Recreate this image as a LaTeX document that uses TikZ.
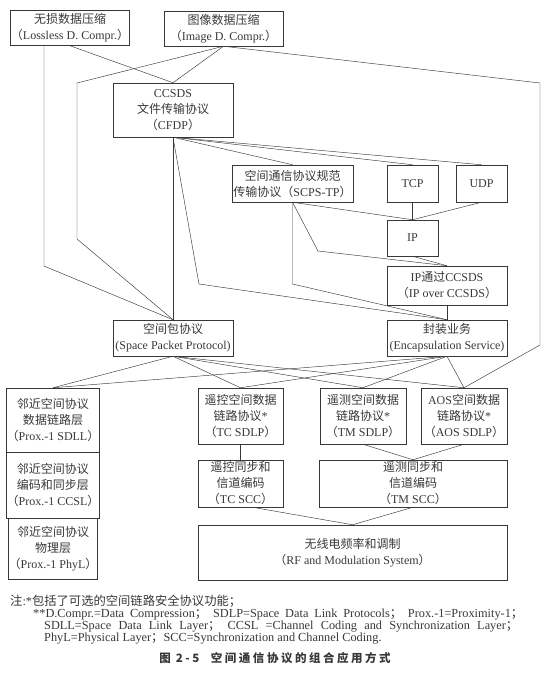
\documentclass[tikz,border=0pt]{standalone}
\usepackage{fontspec}
\setmainfont{Liberation Serif}
\newfontfamily\cjk{Noto Sans CJK SC}
\newfontfamily\capcjk[LetterSpace=22]{Noto Sans CJK SC}
\usetikzlibrary{calc}
\newcommand{\zh}[1]{{\cjk #1}}
\colorlet{ink}{black!78}

\begin{document}
\begin{tikzpicture}[x=1pt,y=-1pt,
    box/.style={draw=ink,line width=0.5pt,align=center,inner sep=0pt,
                text=ink,font=\fontsize{12}{16}\selectfont},
    wire/.style={draw=ink,line width=0.45pt},
    note/.style={text=ink,inner sep=0pt,font=\fontsize{12.3}{12}\selectfont}]

  \useasboundingbox (0,0) rectangle (549,693) ;
%
  \node [box,minimum width=119pt,minimum height=35pt] (lossless) at (70,28)
    {\zh{无损数据压缩}\\\zh{（}Lossless D. Compr.\zh{）}} ;
  \node [box,minimum width=119pt,minimum height=35pt] (image) at (223.5,28.5)
    {\zh{图像数据压缩}\\\zh{（}Image D. Compr.\zh{）}} ;
  \node [box,minimum width=120pt,minimum height=54pt] (cfdp) at (173,110)
    {CCSDS\\\zh{文件传输协议}\\\zh{（}CFDP\zh{）}} ;
%
  \node [box,minimum width=121pt,minimum height=37pt] (scps) at (292.5,183.5)
    {\zh{空间通信协议规范}\\\zh{传输协议（}SCPS-TP\zh{）}} ;
  \node [box,minimum width=51pt,minimum height=37pt] (tcp) at (412.5,183.5) {TCP} ;
  \node [box,minimum width=51pt,minimum height=37pt] (udp) at (481.5,183.5) {UDP} ;
  \node [box,minimum width=51pt,minimum height=36pt] (ip) at (412.5,238) {IP} ;
  \node [box,minimum width=120pt,minimum height=39pt] (ipoc) at (447,285.5)
    {IP\zh{通过}CCSDS\\\zh{（}IP over CCSDS\zh{）}} ;
%
  \node [box,minimum width=120pt,minimum height=36pt] (spp) at (173,338)
    {\zh{空间包协议}\\(Space Packet Protocol)} ;
  \node [box,minimum width=120pt,minimum height=36pt] (encap) at (447,338)
    {\zh{封装业务}\\(Encapsulation Service)} ;
%
  \node [box,minimum width=86pt,minimum height=64pt] (sdll) at (53,420)
    {\zh{邻近空间协议}\\\zh{数据链路层}\\\zh{（}Prox.-1 SDLL\zh{）}} ;
  \node [box,minimum width=86pt,minimum height=66pt] (ccsl) at (53,485)
    {\zh{邻近空间协议}\\\zh{编码和同步层}\\\zh{（}Prox.-1 CCSL\zh{）}} ;
  \node [box,minimum width=86pt,minimum height=61pt] (phyl) at (53,548.5)
    {\zh{邻近空间协议}\\\zh{物理层}\\\zh{（}Prox.-1 PhyL\zh{）}} ;
%
  \node [box,minimum width=85pt,minimum height=56pt] (tcsdlp) at (240.5,416)
    {\zh{遥控空间数据}\\\zh{链路协议}*\\\zh{（}TC SDLP\zh{）}} ;
  \node [box,minimum width=86pt,minimum height=56pt] (tmsdlp) at (363,416)
    {\zh{遥测空间数据}\\\zh{链路协议}*\\\zh{（}TM SDLP\zh{）}} ;
  \node [box,minimum width=86pt,minimum height=56pt] (aossdlp) at (464,416)
    {AOS\zh{空间数据}\\\zh{链路协议}*\\\zh{（}AOS SDLP\zh{）}} ;
%
  \node [box,minimum width=85pt,minimum height=47pt] (tcscc) at (240.5,483.5)
    {\zh{遥控同步和}\\\zh{信道编码}\\\zh{（}TC SCC\zh{）}} ;
  \node [box,minimum width=188pt,minimum height=47pt] (tmscc) at (413,483.5)
    {\zh{遥测同步和}\\\zh{信道编码}\\\zh{（}TM SCC\zh{）}} ;
  \node [box,minimum width=309pt,minimum height=55pt] (rf) at (352.5,552.5)
    {\zh{无线电频率和调制}\\\zh{（}RF and Modulation System\zh{）}} ;
%
  \coordinate (lbend) at (44,266) ;
  \coordinate (ilbend) at (77,83) ;
  \coordinate (ildown) at (77,239) ;
  \coordinate (irbend) at (540,83) ;
  \coordinate (irdown) at (540,345) ;
  \coordinate (cfbend) at (199,284) ;
  \coordinate (scbend) at (scps.south |- cfbend) ;
  \coordinate (ipbend) at (318,251) ;
%
  \draw [wire] (lossless.south -| lbend) -- (lbend) -- (spp.north) ;
  \draw [wire] (lossless.south) -- (cfdp.north) ;
  \draw [wire] (image.south) -- (cfdp.north) ;
  \draw [wire] (image.south) -- (ilbend) -- (ildown) -- (spp.north) ;
  \draw [wire] (image.south) -- (irbend) -- (irdown) -- (aossdlp.north) ;
%
  \draw [wire] (cfdp.south) -- (spp.north) ;
  \draw [wire] (cfdp.south) -- (cfbend) -- (encap.north) ;
  \draw [wire] (cfdp.south) -- (scps.north) ;
  \draw [wire] (cfdp.south) -- (tcp.north) ;
  \draw [wire] (cfdp.south) -- (udp.north) ;
%
  \draw [wire] (scps.south) -- (ip.north) ;
  \draw [wire] (tcp.south) -- (ip.north) ;
  \draw [wire] (udp.south) -- (ip.north) ;
  \draw [wire] (scps.south) -- (scbend) -- (encap.north) ;
  \draw [wire] (scps.south) -- (ipbend) -- (ipoc.north) ;
  \draw [wire] (ip.south) -- (ipoc.north) ;
  \draw [wire] (ipoc.south) -- (encap.north) ;
%
  \draw [wire] (spp.south) -- (sdll.north) ;
  \draw [wire] (spp.south) -- (tcsdlp.north) ;
  \draw [wire] (spp.south) -- (tmsdlp.north) ;
  \draw [wire] (spp.south) -- (aossdlp.north) ;
  \draw [wire] (encap.south) -- (sdll.north) ;
  \draw [wire] (encap.south) -- (tcsdlp.north) ;
  \draw [wire] (encap.south) -- (tmsdlp.north) ;
  \draw [wire] (encap.south) -- (aossdlp.north) ;
%
  \draw [wire] (tcsdlp.south) -- (tcscc.north) ;
  \draw [wire] (tmsdlp.south) -- (tmscc.north) ;
  \draw [wire] (aossdlp.south) -- (tmscc.north) ;
  \draw [wire] ([xshift=12pt]tcscc.south) -- (rf.north) ;
  \draw [wire] (tmscc.south) -- (rf.north) ;
%
  \node [note,anchor=base west] (note1) at (10,605)
    {\zh{注}:*\zh{包括了可选的空间链路安全协议功能；}} ;
  \node [note,anchor=base west] (note2) at (33,617)
    {\makebox[490pt][s]{**D.Compr.=Data Compression\zh{；} SDLP=Space Data Link Protocols\zh{；} Prox.-1=Proximity-1\zh{；}}} ;
  \node [note,anchor=base west] (note3) at (44,629)
    {\makebox[474pt][s]{SDLL=Space Data Link Layer\zh{；} CCSL =Channel Coding and Synchronization Layer\zh{；}}} ;
  \node [note,anchor=base west] (note4) at (44,641)
    {PhyL=Physical Layer\zh{；}SCC=Synchronization and Channel Coding.} ;
%
  \node [text=ink,inner sep=0pt,font=\fontsize{11.5}{13}\selectfont] (caption) at (275,658)
    {\capcjk\bfseries 图 2-5\quad 空间通信协议的组合应用方式} ;

\end{tikzpicture}
\end{document}
